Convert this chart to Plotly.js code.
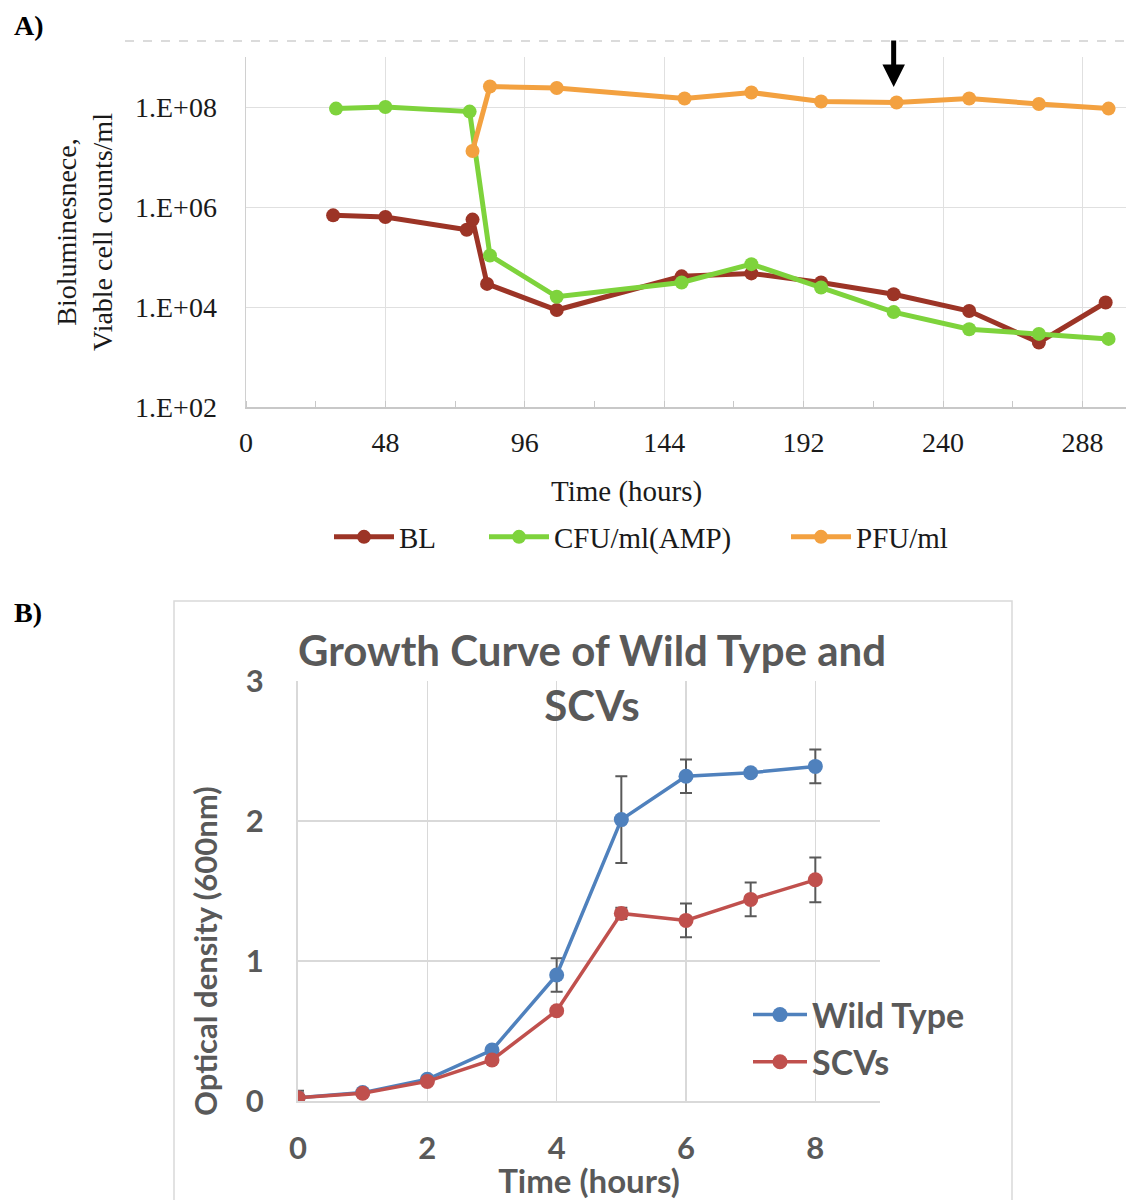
<!DOCTYPE html>
<html><head><meta charset="utf-8">
<script src="https://cdn.plot.ly/plotly-3.0.1.min.js"></script>
<style>html,body{margin:0;padding:0;background:#fff}#chart{width:1126px;height:1200px}</style>
</head><body><div id="chart"></div>
<script>
// ---------- Panel A data ----------
const blHours  = [30, 48, 76, 78, 83, 107, 150, 174, 198, 223, 249, 273, 296];
const blValues = [6.8e5, 6.3e5, 3.5e5, 5.6e5, 2.9e4, 8.7e3, 4.1e4, 4.7e4, 3.1e4, 1.8e4, 8.3e3, 1.95e3, 1.23e4];
const cfuHours  = [31, 48, 77, 84, 107, 150, 174, 198, 223, 249, 273, 297];
const cfuValues = [9.3e7, 1.0e8, 8.1e7, 1.07e5, 1.6e4, 3.1e4, 7.2e4, 2.45e4, 7.9e3, 3.6e3, 2.9e3, 2.3e3];
const pfuHours  = [78, 84, 107, 151, 174, 198, 224, 249, 273, 297];
const pfuValues = [1.32e7, 2.57e8, 2.4e8, 1.48e8, 1.95e8, 1.29e8, 1.23e8, 1.48e8, 1.15e8, 9.3e7];
const aXTicks = [0, 48, 96, 144, 192, 240, 288];
const aYTicks = [1e2, 1e4, 1e6, 1e8];
const aYTickText = ['1.E+02', '1.E+04', '1.E+06', '1.E+08'];
const arrowHour = 223;
const arrowLogValue = 8.4;

// ---------- Panel B data ----------
const hoursB = [0, 1, 2, 3, 4, 5, 6, 7, 8];
const wildType = [0.024, 0.06, 0.155, 0.364, 0.90, 2.01, 2.32, 2.345, 2.39];
const wildTypeErr = [0.05, 0.01, 0.01, 0.02, 0.12, 0.31, 0.12, 0.02, 0.12];
const scvs = [0.024, 0.055, 0.14, 0.293, 0.645, 1.34, 1.29, 1.44, 1.58];
const scvsErr = [0.01, 0.01, 0.01, 0.01, 0.01, 0.04, 0.12, 0.12, 0.16];

const serif = 'Liberation Serif, Times New Roman, serif';
const sans = 'Lato, Open Sans, sans-serif';
const grey = '#595959';
const ink = '#1a1a1a';

const traces = [
  {x: blHours, y: blValues, name: 'BL', type: 'scatter', mode: 'lines+markers',
   line: {color: '#9c3426', width: 5}, marker: {color: '#9c3426', size: 14}, xaxis: 'x', yaxis: 'y', legend: 'legend'},
  {x: cfuHours, y: cfuValues, name: 'CFU/ml(AMP)', type: 'scatter', mode: 'lines+markers',
   line: {color: '#7ed33c', width: 5}, marker: {color: '#7ed33c', size: 14}, xaxis: 'x', yaxis: 'y', legend: 'legend3'},
  {x: pfuHours, y: pfuValues, name: 'PFU/ml', type: 'scatter', mode: 'lines+markers',
   line: {color: '#f3a140', width: 5}, marker: {color: '#f3a140', size: 14}, xaxis: 'x', yaxis: 'y', legend: 'legend4'},
  {x: hoursB, y: wildType, name: 'Wild Type', type: 'scatter', mode: 'lines+markers',
   line: {color: '#4f81bd', width: 3.5}, marker: {color: '#4f81bd', size: 15},
   error_y: {type: 'data', array: wildTypeErr, visible: true, color: grey, thickness: 2, width: 6},
   xaxis: 'x2', yaxis: 'y2', legend: 'legend2'},
  {x: hoursB, y: scvs, name: 'SCVs', type: 'scatter', mode: 'lines+markers',
   line: {color: '#c0504d', width: 3.5}, marker: {color: '#c0504d', size: 15},
   error_y: {type: 'data', array: scvsErr, visible: true, color: grey, thickness: 2, width: 6},
   xaxis: 'x2', yaxis: 'y2', legend: 'legend2'}
];

const W = 1126, H = 1200;
function legendA(xPx) {
  return {orientation: 'h', x: xPx / W, xanchor: 'left', y: 1 - 537 / H, yanchor: 'middle', itemwidth: 60,
          font: {family: serif, size: 29, color: ink}, bgcolor: 'rgba(0,0,0,0)'};
}
const layout = {
  width: W, height: H, margin: {l: 0, r: 0, t: 0, b: 0},
  paper_bgcolor: '#fff', plot_bgcolor: '#fff', showlegend: true,
  title: {text: 'Growth Curve of Wild Type and<br>SCVs', x: 592 / W, xanchor: 'center', xref: 'paper',
          y: 1 - 666 / H, yanchor: 'middle', yref: 'paper',
          font: {family: sans, size: 42, color: grey, weight: 'bold'}},
  xaxis: {domain: [246 / W, 1], range: [0, 303], anchor: 'y', tickvals: aXTicks,
          showgrid: true, gridcolor: '#e0e0e0', gridwidth: 1, zeroline: false,
          showline: true, linecolor: '#c8c8c8', linewidth: 1.5, ticks: '',
          tickfont: {family: serif, size: 28, color: ink}, ticklabelstandoff: 10,
          minor: {dtick: 24, ticks: 'inside', ticklen: 6, tickcolor: '#c8c8c8', showgrid: false}},
  yaxis: {domain: [1 - 407 / H, 1 - 57 / H], type: 'log', range: [2, 9], anchor: 'x',
          tickvals: aYTicks, ticktext: aYTickText, showgrid: true, gridcolor: '#e0e0e0', gridwidth: 1,
          zeroline: false, showline: true, linecolor: '#d0d0d0', linewidth: 1.5, ticks: '',
          tickfont: {family: serif, size: 28, color: ink}, ticklabelstandoff: 22,
          title: {text: 'Bioluminesnece,<br>Viable cell counts/ml', font: {family: serif, size: 28, color: ink}, standoff: 14}},
  xaxis2: {domain: [298 / W, 880 / W], range: [0, 9], anchor: 'y2', tickvals: [0, 2, 4, 6, 8],
           showgrid: true, gridcolor: '#d9d9d9', gridwidth: 1.5, zeroline: false,
           showline: true, linecolor: '#d9d9d9', linewidth: 2, ticks: '',
           tickfont: {family: sans, size: 31, color: grey, weight: 'bold'}, ticklabelstandoff: 19,
           title: {text: 'Time (hours)', font: {family: sans, size: 33, color: grey, weight: 'bold'}, standoff: 0}},
  yaxis2: {domain: [1 - 1101 / H, 1 - 681 / H], range: [0, 3], anchor: 'x2', tickvals: [0, 1, 2, 3],
           showgrid: true, gridcolor: '#d9d9d9', gridwidth: 1.5, zeroline: false,
           showline: true, linecolor: '#d9d9d9', linewidth: 2, ticks: '',
           tickfont: {family: sans, size: 31, color: grey, weight: 'bold'}, ticklabelstandoff: 26},
  legend: legendA(329),
  legend3: legendA(484),
  legend4: legendA(786),
  legend2: {orientation: 'v', x: 748 / W, xanchor: 'left', y: 1 - 986 / H, yanchor: 'top', itemwidth: 54,
            font: {family: sans, size: 34, color: grey, weight: 'bold'}, bgcolor: 'rgba(0,0,0,0)', tracegroupgap: 0},
  annotations: [
    {text: '<b>A)</b>', xref: 'paper', yref: 'paper', x: 12 / W, y: 1 - 25 / H, xanchor: 'left', yanchor: 'middle',
     showarrow: false, font: {family: serif, size: 28, color: '#000'}},
    {text: '<b>B)</b>', xref: 'paper', yref: 'paper', x: 12 / W, y: 1 - 612 / H, xanchor: 'left', yanchor: 'middle',
     showarrow: false, font: {family: serif, size: 28, color: '#000'}},
    {text: 'Time (hours)', xref: 'paper', yref: 'paper', x: 626 / W, y: 1 - 492 / H, xanchor: 'center', yanchor: 'middle',
     showarrow: false, font: {family: serif, size: 29, color: ink}},
    {text: 'Optical density (600nm)', xref: 'paper', yref: 'paper', x: 205 / W, y: 1 - 951 / H, xanchor: 'center', yanchor: 'middle',
     textangle: -90, showarrow: false, font: {family: sans, size: 31, color: grey, weight: 'bold'}},
    {text: '', xref: 'x', yref: 'y', x: arrowHour, y: arrowLogValue, showarrow: true, ax: 0, ay: -48,
     arrowhead: 2, arrowsize: 0.9, arrowwidth: 5, arrowcolor: '#000'}
  ],
  shapes: [
    {type: 'rect', xref: 'paper', yref: 'paper', x0: 174 / W, x1: 1012 / W, y0: -0.02, y1: 1 - 601 / H,
     line: {color: '#d9d9d9', width: 1.5}},
    {type: 'line', xref: 'paper', yref: 'paper', x0: 125 / W, x1: 1, y0: 1 - 41 / H, y1: 1 - 41 / H,
     line: {color: '#cfcfcf', width: 1.5, dash: 'dash'}}
  ]
};

Plotly.newPlot('chart', traces, layout, {displayModeBar: false, staticPlot: true});
</script>
</body></html>
